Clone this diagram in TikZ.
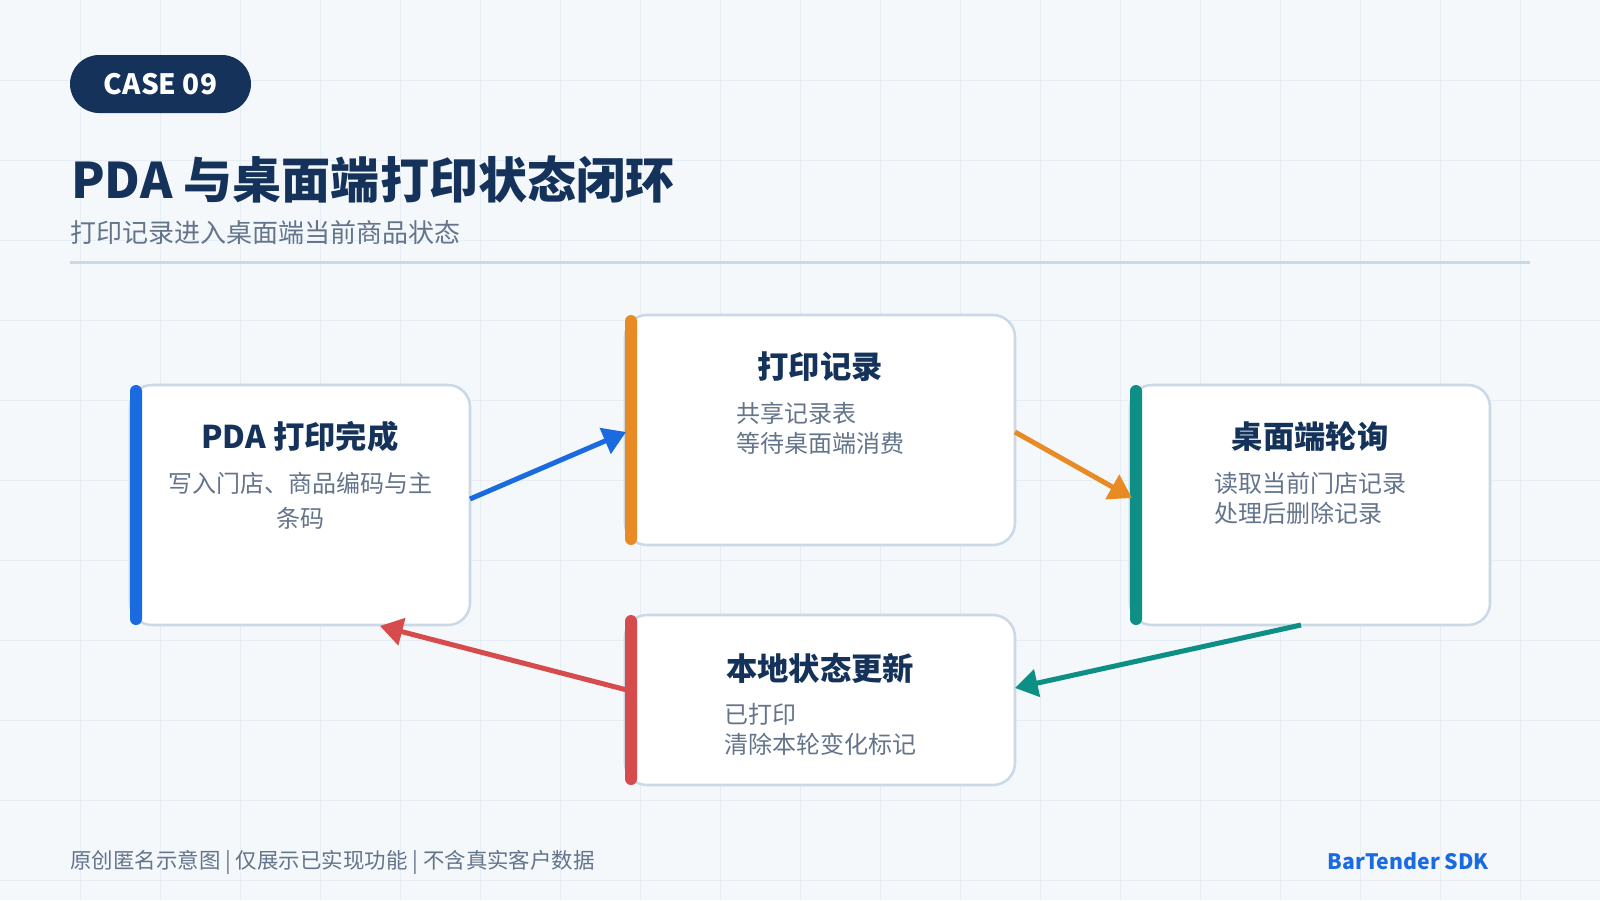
\documentclass[tikz,border=0pt]{standalone}
\usepackage{fontspec}
\setmainfont{Noto Sans CJK SC}
\usetikzlibrary{arrows.meta,calc}
\definecolor{bg}{HTML}{F4F8FB}
\definecolor{gridc}{HTML}{E6EDF4}
\definecolor{navy}{HTML}{15335A}
\definecolor{slate}{HTML}{64748B}
\definecolor{rulec}{HTML}{CBD8E6}
\definecolor{cblue}{HTML}{1A6AE0}
\definecolor{corange}{HTML}{E98B24}
\definecolor{cteal}{HTML}{0D8F85}
\definecolor{cred}{HTML}{D64B4B}
\tikzset{
  card/.style={draw=rulec, line width=1.9pt, fill=white, rounded corners=16.5pt, outer sep=0pt, inner sep=0pt},
  cardtitle/.style={text=navy, font=\fontsize{23.5pt}{28pt}\selectfont\bfseries, inner sep=0pt},
  carddesc/.style={text=slate, font=\fontsize{18pt}{22.5pt}\selectfont, inner sep=0pt, align=left, anchor=north},
  flow/.style={line width=3.75pt, -{Triangle[length=17pt,width=20.5pt]}},
  accent/.style={rounded corners=4.5pt},
}
\begin{document}
\begin{tikzpicture}[x=0.75pt,y=-0.75pt]
\fill[bg] (0,0) rectangle (1600,900);
\useasboundingbox (0,0) rectangle (1600,900);
\foreach \x in {80,160,...,1520} \draw[gridc, line width=0.75pt] (\x,0) -- (\x,900);
\foreach \y in {80,160,...,880} \draw[gridc, line width=0.75pt] (0,\y) -- (1600,\y);

% header
\node[fill=navy, rounded corners=21.75pt, minimum width=135.75pt, minimum height=43.5pt, inner sep=0pt,
      text=white, font=\fontsize{21pt}{25pt}\selectfont\bfseries] (badge) at (160.5,84) {\raisebox{-1.5pt}{CASE 09}};
\node[anchor=west, inner sep=0pt, text=navy, font=\fontsize{36.8pt}{44pt}\selectfont\bfseries] (title) at (71,180) {PDA 与桌面端打印状态闭环};
\node[anchor=west, inner sep=0pt, text=slate, font=\fontsize{19.5pt}{24pt}\selectfont] (sub) at (70,233) {打印记录进入桌面端当前商品状态};
\draw[rulec, line width=2.25pt] (70,262) -- (1530,262);

% cards
\node[card, minimum width=255pt, minimum height=180pt] (b1) at (300,505) {};
\node[card, minimum width=292.5pt, minimum height=172.5pt] (b2) at (820,430) {};
\node[card, minimum width=270pt, minimum height=180pt] (b3) at (1310,505) {};
\node[card, minimum width=292.5pt, minimum height=127.5pt] (b4) at (820,700) {};

\fill[cblue, accent] (b1.north west) rectangle ($(b1.south west)+(12,0)$);
\fill[corange, accent] (b2.north west) rectangle ($(b2.south west)+(12,0)$);
\fill[cteal, accent] (b3.north west) rectangle ($(b3.south west)+(12,0)$);
\fill[cred, accent] (b4.north west) rectangle ($(b4.south west)+(12,0)$);

\node[cardtitle] (t1) at (300,437) {PDA 打印完成};
\node[carddesc, align=center, font=\fontsize{18pt}{26.25pt}\selectfont] (d1) at (300,472) {写入门店、商品编码与主\\条码};

\node[cardtitle] (t2) at (820,367) {打印记录};
\node[carddesc] (d2) at (820,402) {共享记录表\\等待桌面端消费};

\node[cardtitle] (t3) at (1310,437) {桌面端轮询};
\node[carddesc] (d3) at (1310,472) {读取当前门店记录\\处理后删除记录};

\node[cardtitle] (t4) at (820,668) {本地状态更新};
\node[carddesc] (d4) at (820,703) {已打印\\清除本轮变化标记};

% connectors
\draw[flow, cblue] ($(b1.east)+(0,-6)$) -- ($(b2.west)+(1,2)$);
\draw[flow, corange] ($(b2.east)+(0,2)$) -- ($(b3.west)+(2,-7)$);
\draw[flow, cteal] ($(b3.south)+(-9,0)$) -- ($(b4.east)+(0,-12)$);
\draw[flow, cred] ($(b4.west)+(2,-10)$) -- ($(b1.south)+(80,1)$);

% footer
\node[anchor=west, inner sep=0pt, text=slate, font=\fontsize{16.1pt}{19pt}\selectfont] (foot) at (70,862) {原创匿名示意图 | 仅展示已实现功能 | 不含真实客户数据};
\node[anchor=east, inner sep=0pt, text=cblue, font=\fontsize{15.9pt}{19pt}\selectfont\bfseries] (brand) at (1489,861) {BarTender SDK};
\end{tikzpicture}
\end{document}
